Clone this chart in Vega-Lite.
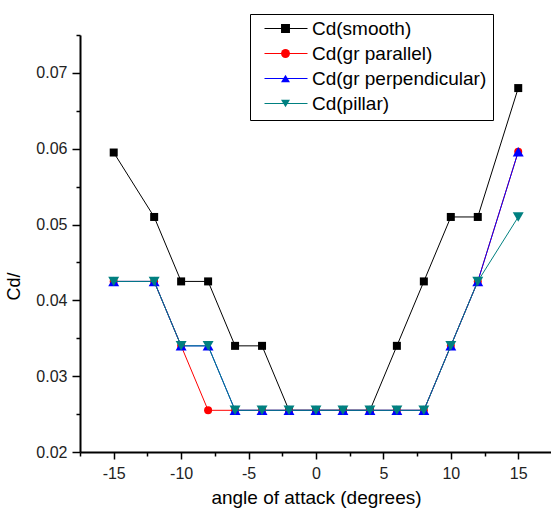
{
  "$schema": "https://vega.github.io/schema/vega-lite/v6.json",
  "width": 471,
  "height": 417,
  "autosize": "none",
  "padding": {"left": 80, "top": 35, "right": 0, "bottom": 64},
  "background": "white",
  "config": {
    "view": {"stroke": null},
    "font": "Liberation Sans",
    "legend": {"labelFont": "Liberation Sans"}
  },
  "datasets": {
    "cd": [
      {"series": "Cd(smooth)", "x": -15, "y": 0.0595},
      {"series": "Cd(smooth)", "x": -12, "y": 0.051},
      {"series": "Cd(smooth)", "x": -10, "y": 0.0425},
      {"series": "Cd(smooth)", "x": -8, "y": 0.0425},
      {"series": "Cd(smooth)", "x": -6, "y": 0.034},
      {"series": "Cd(smooth)", "x": -4, "y": 0.034},
      {"series": "Cd(smooth)", "x": -2, "y": 0.0255},
      {"series": "Cd(smooth)", "x": 0, "y": 0.0255},
      {"series": "Cd(smooth)", "x": 2, "y": 0.0255},
      {"series": "Cd(smooth)", "x": 4, "y": 0.0255},
      {"series": "Cd(smooth)", "x": 6, "y": 0.034},
      {"series": "Cd(smooth)", "x": 8, "y": 0.0425},
      {"series": "Cd(smooth)", "x": 10, "y": 0.051},
      {"series": "Cd(smooth)", "x": 12, "y": 0.051},
      {"series": "Cd(smooth)", "x": 15, "y": 0.068},
      {"series": "Cd(gr parallel)", "x": -15, "y": 0.0425},
      {"series": "Cd(gr parallel)", "x": -12, "y": 0.0425},
      {"series": "Cd(gr parallel)", "x": -10, "y": 0.034},
      {"series": "Cd(gr parallel)", "x": -8, "y": 0.0255},
      {"series": "Cd(gr parallel)", "x": -6, "y": 0.0255},
      {"series": "Cd(gr parallel)", "x": -4, "y": 0.0255},
      {"series": "Cd(gr parallel)", "x": -2, "y": 0.0255},
      {"series": "Cd(gr parallel)", "x": 0, "y": 0.0255},
      {"series": "Cd(gr parallel)", "x": 2, "y": 0.0255},
      {"series": "Cd(gr parallel)", "x": 4, "y": 0.0255},
      {"series": "Cd(gr parallel)", "x": 6, "y": 0.0255},
      {"series": "Cd(gr parallel)", "x": 8, "y": 0.0255},
      {"series": "Cd(gr parallel)", "x": 10, "y": 0.034},
      {"series": "Cd(gr parallel)", "x": 12, "y": 0.0425},
      {"series": "Cd(gr parallel)", "x": 15, "y": 0.0596},
      {"series": "Cd(gr perpendicular)", "x": -15, "y": 0.0425},
      {"series": "Cd(gr perpendicular)", "x": -12, "y": 0.0425},
      {"series": "Cd(gr perpendicular)", "x": -10, "y": 0.034},
      {"series": "Cd(gr perpendicular)", "x": -8, "y": 0.034},
      {"series": "Cd(gr perpendicular)", "x": -6, "y": 0.0255},
      {"series": "Cd(gr perpendicular)", "x": -4, "y": 0.0255},
      {"series": "Cd(gr perpendicular)", "x": -2, "y": 0.0255},
      {"series": "Cd(gr perpendicular)", "x": 0, "y": 0.0255},
      {"series": "Cd(gr perpendicular)", "x": 2, "y": 0.0255},
      {"series": "Cd(gr perpendicular)", "x": 4, "y": 0.0255},
      {"series": "Cd(gr perpendicular)", "x": 6, "y": 0.0255},
      {"series": "Cd(gr perpendicular)", "x": 8, "y": 0.0255},
      {"series": "Cd(gr perpendicular)", "x": 10, "y": 0.034},
      {"series": "Cd(gr perpendicular)", "x": 12, "y": 0.0425},
      {"series": "Cd(gr perpendicular)", "x": 15, "y": 0.0596},
      {"series": "Cd(pillar)", "x": -15, "y": 0.0425},
      {"series": "Cd(pillar)", "x": -12, "y": 0.0425},
      {"series": "Cd(pillar)", "x": -10, "y": 0.034},
      {"series": "Cd(pillar)", "x": -8, "y": 0.034},
      {"series": "Cd(pillar)", "x": -6, "y": 0.0255},
      {"series": "Cd(pillar)", "x": -4, "y": 0.0255},
      {"series": "Cd(pillar)", "x": -2, "y": 0.0255},
      {"series": "Cd(pillar)", "x": 0, "y": 0.0255},
      {"series": "Cd(pillar)", "x": 2, "y": 0.0255},
      {"series": "Cd(pillar)", "x": 4, "y": 0.0255},
      {"series": "Cd(pillar)", "x": 6, "y": 0.0255},
      {"series": "Cd(pillar)", "x": 8, "y": 0.0255},
      {"series": "Cd(pillar)", "x": 10, "y": 0.034},
      {"series": "Cd(pillar)", "x": 12, "y": 0.0425},
      {"series": "Cd(pillar)", "x": 15, "y": 0.051}
    ]
  },
  "data": {"name": "cd"},
  "encoding": {
    "x": {
      "field": "x",
      "type": "quantitative",
      "scale": {"domain": [-17.5, 17.43], "nice": false, "zero": false},
      "axis": {
        "title": "angle of attack (degrees)",
        "values": [-17.5, -15, -12.5, -10, -7.5, -5, -2.5, 0, 2.5, 5, 7.5, 10, 12.5, 15],
        "labelExpr": "datum.value % 5 === 0 ? '' + datum.value : ''",
        "tickSize": {"condition": {"test": "datum.value % 5 === 0", "value": 7}, "value": 4},
        "grid": false,
        "domainColor": "black",
        "domainWidth": 2,
        "tickColor": "black",
        "tickWidth": 1.5,
        "labelFontSize": 16,
        "labelColor": "#222",
        "labelPadding": 6,
        "labelFlush": false,
        "labelOverlap": false,
        "titleFontSize": 19,
        "titleFontWeight": "normal",
        "titleColor": "black",
        "titleX": 236,
        "titleY": 51,
        "titleBaseline": "alphabetic"
      }
    },
    "y": {
      "field": "y",
      "type": "quantitative",
      "scale": {"domain": [0.02, 0.075], "nice": false, "zero": false},
      "axis": {
        "title": "Cd/",
        "values": [0.02, 0.025, 0.03, 0.035, 0.04, 0.045, 0.05, 0.055, 0.06, 0.065, 0.07, 0.075],
        "labelExpr": "round(datum.value * 1000) % 10 === 0 ? format(datum.value, '.2f') : ''",
        "tickSize": {"condition": {"test": "round(datum.value * 1000) % 10 === 0", "value": 8}, "value": 4},
        "grid": false,
        "domainColor": "black",
        "domainWidth": 2,
        "tickColor": "black",
        "tickWidth": 1.5,
        "labelFontSize": 16,
        "labelColor": "#222",
        "labelPadding": 5,
        "labelFlush": false,
        "labelOverlap": false,
        "titleFontSize": 18,
        "titleFontWeight": "normal",
        "titleColor": "black",
        "titleAngle": -90,
        "titleX": -66,
        "titleY": 251,
        "titleAlign": "center",
        "titleBaseline": "middle"
      }
    },
    "stroke": {
      "field": "series",
      "type": "nominal",
      "sort": ["Cd(smooth)", "Cd(gr parallel)", "Cd(gr perpendicular)", "Cd(pillar)"],
      "scale": {
        "range": ["#000000", "#ff0000", "#0000ff", "#008080"]
      },
      "legend": {
        "orient": "none",
        "legendX": 170,
        "legendY": -21,
        "title": null,
        "symbolType": "stroke",
        "symbolSize": 1849,
        "symbolStrokeWidth": 1,
        "labelFontSize": 19,
        "labelColor": "black",
        "labelLimit": 400,
        "labelOffset": 4,
        "symbolOffset": 8,
        "clipHeight": 17,
        "padding": 6,
        "rowPadding": 5,
        "strokeColor": "black"
      }
    },
    "fill": {
      "field": "series",
      "type": "nominal",
      "scale": {
        "domain": ["Cd(smooth)", "Cd(gr parallel)", "Cd(gr perpendicular)", "Cd(pillar)"],
        "range": ["#000000", "#ff0000", "#0000ff", "#008080"]
      },
      "legend": {
        "orient": "none",
        "legendX": 190,
        "legendY": -21,
        "title": null,
        "labelFontSize": 19,
        "labelExpr": "''",
        "labelLimit": 400,
        "clipHeight": 17,
        "padding": 6,
        "rowPadding": 5,
        "symbolSize": 80,
        "symbolOpacity": 1,
        "symbolStrokeWidth": 0
      }
    },
    "shape": {
      "field": "series",
      "type": "nominal",
      "scale": {
        "domain": ["Cd(smooth)", "Cd(gr parallel)", "Cd(gr perpendicular)", "Cd(pillar)"],
        "range": ["square", "circle", "triangle-up", "triangle-down"]
      },
      "legend": {
        "orient": "none",
        "legendX": 190,
        "legendY": -21,
        "title": null,
        "labelFontSize": 19,
        "labelExpr": "''",
        "labelLimit": 400,
        "clipHeight": 17,
        "padding": 6,
        "rowPadding": 5,
        "symbolSize": 80,
        "symbolOpacity": 1,
        "symbolStrokeWidth": 0
      }
    }
  },
  "layer": [
    {
      "transform": [{"filter": "datum.series === 'Cd(smooth)'"}],
      "layer": [
        {"mark": {"type": "line", "strokeWidth": 1}, "encoding": {"fill": null, "shape": null}},
        {"mark": {"type": "point", "filled": true, "opacity": 1, "size": 64}, "encoding": {"stroke": null}}
      ]
    },
    {
      "transform": [{"filter": "datum.series === 'Cd(gr parallel)'"}],
      "layer": [
        {"mark": {"type": "line", "strokeWidth": 1}, "encoding": {"fill": null, "shape": null}},
        {"mark": {"type": "point", "filled": true, "opacity": 1, "size": 64}, "encoding": {"stroke": null}}
      ]
    },
    {
      "transform": [{"filter": "datum.series === 'Cd(gr perpendicular)'"}],
      "layer": [
        {"mark": {"type": "line", "strokeWidth": 1}, "encoding": {"fill": null, "shape": null}},
        {"mark": {"type": "point", "filled": true, "opacity": 1, "size": 120}, "encoding": {"stroke": null}}
      ]
    },
    {
      "transform": [{"filter": "datum.series === 'Cd(pillar)'"}],
      "layer": [
        {"mark": {"type": "line", "strokeWidth": 1}, "encoding": {"fill": null, "shape": null}},
        {"mark": {"type": "point", "filled": true, "opacity": 1, "size": 120}, "encoding": {"stroke": null}}
      ]
    }
  ]
}
